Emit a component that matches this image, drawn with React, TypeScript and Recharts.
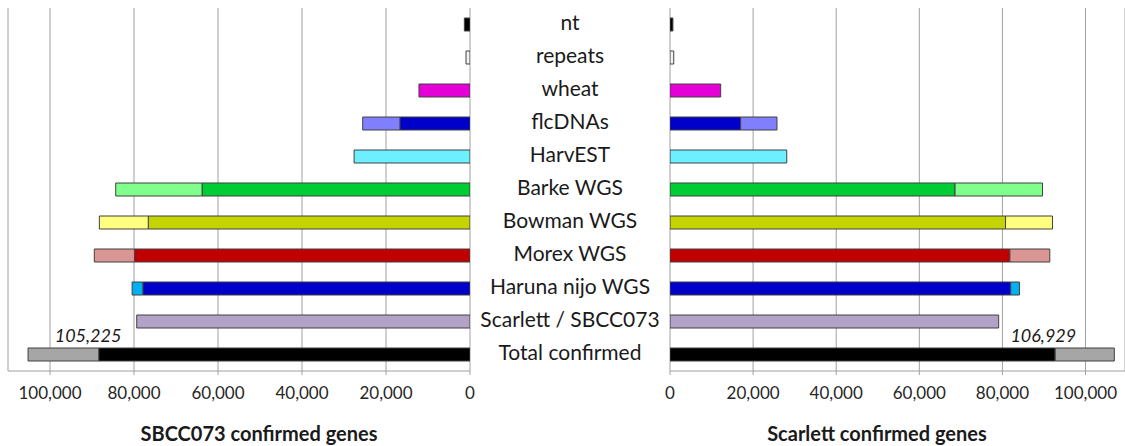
import { BarChart, Bar, XAxis, YAxis, CartesianGrid, Cell, LabelList } from 'recharts';

// categories top to bottom
const categories = [
  'nt', 'repeats', 'wheat', 'flcDNAs', 'HarvEST', 'Barke WGS',
  'Bowman WGS', 'Morex WGS', 'Haruna nijo WGS', 'Scarlett / SBCC073', 'Total confirmed'
];

// SBCC073 (left panel)
const sbccMain = [1350, 950, 12150, 16700, 27600, 63800, 76600, 79900, 77900, 79350, 88400];
const sbccExtra = [0, 0, 0, 8850, 0, 20550, 11650, 9550, 2550, 0, 16825];
const sbccTotal = 105225;

// Scarlett (right panel)
const scarlettMain = [700, 900, 12200, 17000, 28100, 68600, 80750, 81800, 82000, 79100, 92700];
const scarlettExtra = [0, 0, 0, 8750, 0, 21050, 11300, 9600, 2100, 0, 14229];
const scarlettTotal = 106929;

const mainColors = [
  '#000000', '#f2f2f2', '#e600d8', '#0000c8', '#6cf0ff', '#00cc33',
  '#c4d400', '#c00000', '#0000c8', '#b3a2c7', '#000000'
];
const extraColors = [
  '#000000', '#f2f2f2', '#e600d8', '#8080ff', '#6cf0ff', '#80ff8c',
  '#ffff80', '#d99694', '#00b0f0', '#b3a2c7', '#a6a6a6'
];

const xTicks = [0, 20000, 40000, 60000, 80000, 100000];

const leftData = categories.map((name, i) => ({
  name,
  main: sbccMain[i],
  extra: sbccExtra[i],
  total: name === 'Total confirmed' ? sbccTotal : undefined,
}));

const rightData = categories.map((name, i) => ({
  name,
  main: scarlettMain[i],
  extra: scarlettExtra[i],
  total: name === 'Total confirmed' ? scarlettTotal : undefined,
}));

const FONT = 'Lato, Carlito, Calibri, sans-serif';
const fmt = (v: number) => v.toLocaleString('en-US');

const makeTotalLabel = (side: 'left' | 'right') => (props: any) => {
  const { x, y, width, value } = props;
  if (value == null) return null;
  const end = side === 'left' ? Math.min(x, x + width) : Math.max(x, x + width);
  const cx = side === 'left' ? end + 60 : end - 71;
  return (
    <text x={cx} y={y - 11} textAnchor="middle" dominantBaseline="middle"
      fontStyle="italic" fontSize={18} fontFamily={FONT} fill="#1a1a1a">
      {fmt(value)}
    </text>
  );
};

const CategoryTick = (props: any) => {
  const { y, payload } = props;
  return (
    <text x={100} y={y} textAnchor="middle" dominantBaseline="middle"
      fontSize={21} fontFamily={FONT} fill="#1a1a1a">
      {payload.value}
    </text>
  );
};

const axisTick = { fontSize: 17, fontFamily: FONT, fill: '#262626' };

const titleStyle = {
  position: 'absolute' as const, width: 300, top: 422, textAlign: 'center' as const, whiteSpace: 'nowrap' as const,
  fontFamily: FONT, fontWeight: 700, fontSize: 20, color: '#1a1a1a', lineHeight: '22px',
};

export default function App() {
  return (
    <div style={{ position: 'absolute', left: 0, top: 0, width: 1125, height: 446, background: '#fff', overflow: 'hidden' }}>
      {/* SBCC073, mirrored */}
      <div style={{ position: 'absolute', left: 0, top: 0 }}>
        <BarChart layout="vertical" width={480} height={446} data={leftData}
          margin={{ top: 8, right: 10, left: 8, bottom: 0 }} barSize={13}>
          <CartesianGrid horizontal={false} stroke="#a0a0a0" />
          <XAxis type="number" domain={[0, 110000]} reversed ticks={xTicks} allowDataOverflow
            tickFormatter={fmt} height={75} tickSize={4} tickMargin={12}
            axisLine={{ stroke: '#a0a0a0' }} tickLine={{ stroke: '#a0a0a0' }} tick={axisTick} />
          <YAxis type="category" dataKey="name" hide />
          <Bar dataKey="main" stackId="a" stroke="#404040" strokeWidth={1} isAnimationActive={false}>
            {leftData.map((d, i) => <Cell key={d.name} fill={mainColors[i]} />)}
          </Bar>
          <Bar dataKey="extra" stackId="a" stroke="#404040" strokeWidth={1} isAnimationActive={false}>
            {leftData.map((d, i) => <Cell key={d.name} fill={extraColors[i]} />)}
            <LabelList dataKey="total" content={makeTotalLabel('left')} />
          </Bar>
        </BarChart>
      </div>

      {/* Scarlett, with category labels in the middle */}
      <div style={{ position: 'absolute', left: 470, top: 0 }}>
        <BarChart layout="vertical" width={655} height={446} data={rightData}
          margin={{ top: 8, right: 0, left: 0, bottom: 0 }} barSize={13}>
          <CartesianGrid horizontal={false} stroke="#a0a0a0" />
          <XAxis type="number" domain={[0, 109500]} ticks={xTicks} allowDataOverflow
            tickFormatter={fmt} height={75} tickSize={4} tickMargin={12}
            axisLine={{ stroke: '#a0a0a0' }} tickLine={{ stroke: '#a0a0a0' }} tick={axisTick} />
          <YAxis type="category" dataKey="name" width={200} axisLine={false} tickLine={false}
            tick={<CategoryTick />} interval={0} />
          <Bar dataKey="main" stackId="a" stroke="#404040" strokeWidth={1} isAnimationActive={false}>
            {rightData.map((d, i) => <Cell key={d.name} fill={mainColors[i]} />)}
          </Bar>
          <Bar dataKey="extra" stackId="a" stroke="#404040" strokeWidth={1} isAnimationActive={false}>
            {rightData.map((d, i) => <Cell key={d.name} fill={extraColors[i]} />)}
            <LabelList dataKey="total" content={makeTotalLabel('right')} />
          </Bar>
        </BarChart>
      </div>

      <div style={{ ...titleStyle, left: 109 }}>SBCC073 confirmed genes</div>
      <div style={{ ...titleStyle, left: 727 }}>Scarlett confirmed genes</div>
    </div>
  );
}
